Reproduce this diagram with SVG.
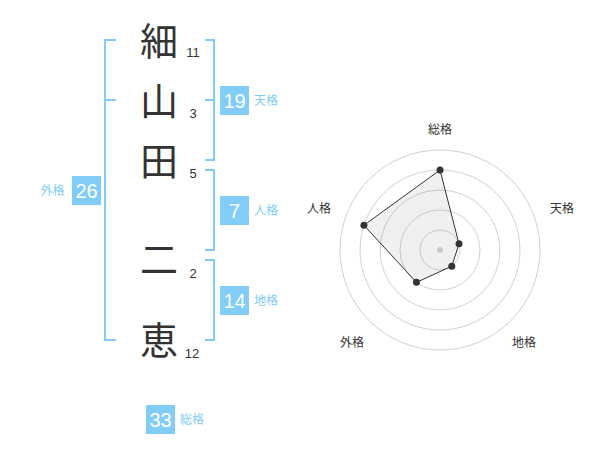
<svg xmlns="http://www.w3.org/2000/svg" width="600" height="470" viewBox="0 0 600 470">
<style>
.ch{font-family:"Noto Sans CJK JP","Noto Sans CJK SC",sans-serif;font-size:38px;fill:#333;text-anchor:middle}
.num{font-family:"Liberation Sans",Arial,sans-serif;font-size:13px;fill:#333;text-anchor:middle}
.br{fill:none;stroke:#81cdf7;stroke-width:2}
.box{fill:#81cdf7}
.bt{font-family:"Liberation Sans",Arial,sans-serif;font-size:20px;fill:#fff;text-anchor:middle}
.lb{font-family:"Noto Sans CJK JP","Noto Sans CJK SC",sans-serif;font-size:12px;fill:#81cdf7}
.rl{font-family:"Noto Sans CJK JP","Noto Sans CJK SC",sans-serif;font-size:12px;fill:#333;text-anchor:middle}
.ring{fill:none;stroke:#d0d0d0;stroke-width:1}
</style>
<rect width="600" height="470" fill="#fff"/>
<g id="chars">
<text class="ch" x="159" y="55">細</text>
<text class="ch" x="159" y="115">山</text>
<text class="ch" x="159" y="175">田</text>
<text class="ch" x="159" y="273">二</text>
<text class="ch" x="159" y="354">恵</text>
</g>
<g id="strokes">
<text class="num" x="193" y="57">11</text>
<text class="num" x="193" y="118">3</text>
<text class="num" x="193" y="178">5</text>
<text class="num" x="193" y="278">2</text>
<text class="num" x="192" y="358">12</text>
</g>
<g id="connectors">
<path class="br" d="M116,40 H105 V340 H116 M105,100 H116"/>
<path class="br" d="M205,40 H214 V160 H205 M214,100 H205"/>
<path class="br" d="M205,170 H214 V250 H205"/>
<path class="br" d="M205,260 H214 V340 H205"/>
</g>
<g id="tenkaku">
<rect class="box" x="220" y="86" width="29" height="29"/>
<text class="bt" x="234.5" y="107.5">19</text>
<text class="lb" x="254" y="105">天格</text>
</g>
<g id="jinkaku">
<rect class="box" x="220" y="196" width="29" height="29"/>
<text class="bt" x="234.5" y="217.5">7</text>
<text class="lb" x="254" y="215">人格</text>
</g>
<g id="chikaku">
<rect class="box" x="220" y="286" width="29" height="29"/>
<text class="bt" x="234.5" y="307.5">14</text>
<text class="lb" x="254" y="305">地格</text>
</g>
<g id="gaikaku">
<rect class="box" x="72" y="176" width="29" height="29"/>
<text class="bt" x="86.5" y="197.5">26</text>
<text class="lb" x="40.5" y="195">外格</text>
</g>
<g id="soukaku">
<rect class="box" x="146" y="405" width="29" height="29"/>
<text class="bt" x="160.5" y="426.5">33</text>
<text class="lb" x="180" y="424">総格</text>
</g>
<g id="radar">
<circle class="ring" cx="440" cy="250" r="20"/>
<circle class="ring" cx="440" cy="250" r="40"/>
<circle class="ring" cx="440" cy="250" r="60"/>
<circle class="ring" cx="440" cy="250" r="80"/>
<circle class="ring" cx="440" cy="250" r="100"/>
<polygon points="440,170 459.02,243.82 451.76,266.18 416.49,282.36 363.92,225.28" fill="#999" fill-opacity="0.15" stroke="#333" stroke-width="1"/>
<circle cx="440" cy="250" r="3" fill="#ccc"/>
<g fill="#333">
<circle cx="440" cy="170" r="3.5"/>
<circle cx="459.02" cy="243.82" r="3.5"/>
<circle cx="451.76" cy="266.18" r="3.5"/>
<circle cx="416.49" cy="282.36" r="3.5"/>
<circle cx="363.92" cy="225.28" r="3.5"/>
</g>
<text class="rl" x="440" y="134">総格</text>
<text class="rl" x="562" y="213">天格</text>
<text class="rl" x="319" y="213">人格</text>
<text class="rl" x="352" y="347">外格</text>
<text class="rl" x="524" y="347">地格</text>
</g>
</svg>
